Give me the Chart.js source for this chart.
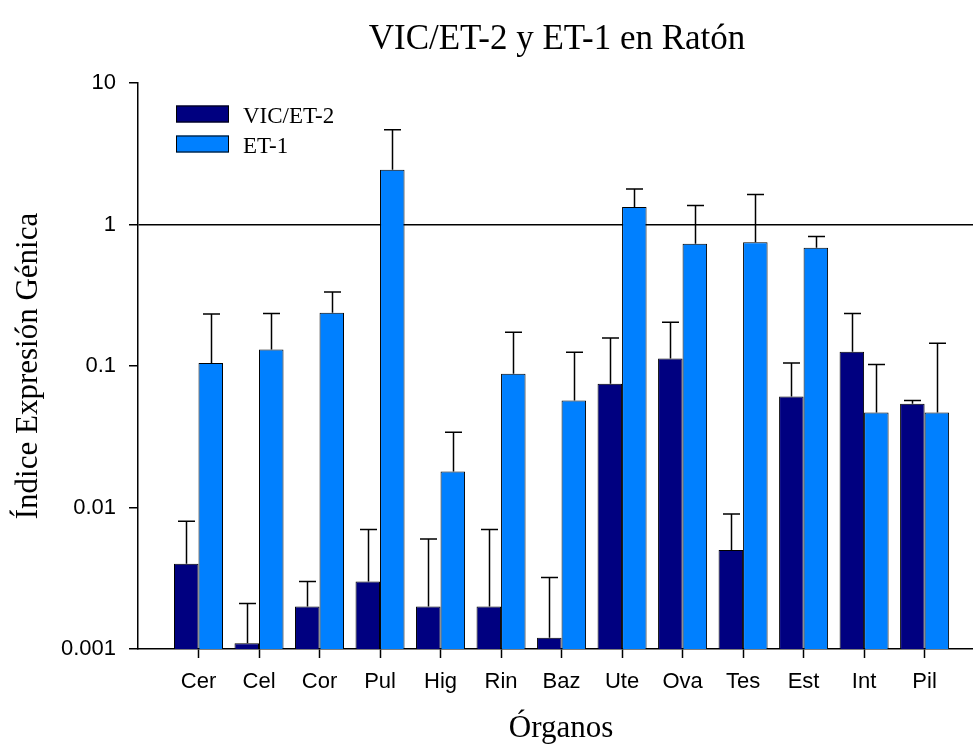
<!DOCTYPE html>
<html>
<head>
<meta charset="utf-8">
<title>VIC/ET-2 y ET-1 en Ratón</title>
<script src="https://cdn.jsdelivr.net/npm/chart.js@4/dist/chart.umd.min.js"></script>
<style>
  html, body { margin: 0; padding: 0; background: #fff; }
  #wrap { width: 973px; height: 744px; }
</style>
</head>
<body>
<div id="wrap"><canvas id="c" width="973" height="744"></canvas></div>
<script>
// Organs on the x axis
const categories = ['Cer', 'Cel', 'Cor', 'Pul', 'Hig', 'Rin', 'Baz', 'Ute', 'Ova', 'Tes', 'Est', 'Int', 'Pil'];

// VIC/ET-2 relative expression and top of its error bar
const vicValues = [0.004, 0.0011, 0.002, 0.003, 0.002, 0.002, 0.0012, 0.075, 0.113, 0.005, 0.061, 0.126, 0.054];
const vicErrTop = [0.008, 0.0021, 0.003, 0.007, 0.006, 0.007, 0.0032, 0.158, 0.204, 0.009, 0.105, 0.235, 0.057];

// ET-1 relative expression and top of its error bar
const et1Values = [0.105, 0.131, 0.238, 2.44, 0.018, 0.088, 0.057, 1.33, 0.73, 0.75, 0.685, 0.047, 0.047];
const et1ErrTop = [0.233, 0.235, 0.333, 4.68, 0.034, 0.173, 0.125, 1.78, 1.365, 1.63, 0.824, 0.1025, 0.145];

// Decade ticks of the log axis
const yTickValues = [0.001, 0.01, 0.1, 1, 10];
const yTickLabels = ['0.001', '0.01', '0.1', '1', '10'];

const SANS = '"Liberation Sans", Arial, Helvetica, sans-serif';
const SERIF = '"Liberation Serif", "Times New Roman", Times, serif';

// Error bars (upper whisker with cap) above each bar
const errorBars = {
  id: 'errorBars',
  afterDatasetsDraw(chart) {
    const { ctx, scales: { y } } = chart;
    ctx.save();
    ctx.strokeStyle = '#000';
    ctx.lineWidth = 1.5;
    chart.data.datasets.forEach((ds, di) => {
      const meta = chart.getDatasetMeta(di);
      meta.data.forEach((bar, i) => {
        const top = y.getPixelForValue(ds.errTop[i]);
        const x = Math.round(bar.x) + 0.5;
        ctx.beginPath();
        ctx.moveTo(x, bar.y);
        ctx.lineTo(x, top);
        ctx.moveTo(x - 8.5, top);
        ctx.lineTo(x + 8.5, top);
        ctx.stroke();
      });
    });
    ctx.restore();
  }
};

// Titles and legend placed around the plot area
const decorations = {
  id: 'decorations',
  afterDraw(chart) {
    const { ctx, chartArea: a } = chart;
    ctx.save();
    ctx.fillStyle = '#000';

    ctx.font = '35px ' + SERIF;
    ctx.textAlign = 'center';
    ctx.textBaseline = 'alphabetic';
    ctx.fillText('VIC/ET-2 y ET-1 en Ratón', (a.left + a.right) / 2 + 1.5, 49);

    ctx.font = '31px ' + SERIF;
    ctx.fillText('Órganos', (a.left + a.right) / 2 + 5.5, 737);

    ctx.save();
    ctx.translate(37, (a.top + a.bottom) / 2);
    ctx.rotate(-Math.PI / 2);
    ctx.fillText('Índice Expresión Génica', 0, 0);
    ctx.restore();

    // legend
    ctx.font = '23px ' + SERIF;
    ctx.textAlign = 'left';
    chart.data.datasets.forEach((ds, i) => {
      const bx = a.left + 38, by = 105.5 + i * 30, bw = 53, bh = 17;
      ctx.fillStyle = ds.backgroundColor;
      ctx.fillRect(bx, by, bw, bh);
      ctx.strokeStyle = '#000';
      ctx.lineWidth = 1;
      ctx.strokeRect(bx + 0.5, by + 0.5, bw - 1, bh - 1);
      ctx.fillStyle = '#000';
      ctx.fillText(ds.label, bx + 67, by + bh);
    });
    ctx.restore();
  }
};

const toPoints = vals => vals.map((v, i) => ({ x: i + 1, y: v }));

new Chart(document.getElementById('c'), {
  type: 'bar',
  data: {
    datasets: [
      {
        label: 'VIC/ET-2',
        data: toPoints(vicValues),
        errTop: vicErrTop,
        backgroundColor: '#000080',
        borderColor: '#000',
        borderWidth: 1,
        borderSkipped: 'start'
      },
      {
        label: 'ET-1',
        data: toPoints(et1Values),
        errTop: et1ErrTop,
        backgroundColor: '#0080FF',
        borderColor: '#000',
        borderWidth: 1,
        borderSkipped: 'start'
      }
    ]
  },
  options: {
    responsive: false,
    animation: false,
    devicePixelRatio: 1,
    layout: { padding: { top: 83, right: 0, bottom: 0, left: 0 } },
    datasets: { bar: { categoryPercentage: 0.81, barPercentage: 1 } },
    plugins: {
      legend: { display: false },
      title: { display: false },
      tooltip: { enabled: false }
    },
    scales: {
      x: {
        type: 'linear',
        min: 0,
        max: 13.8,
        offset: false,
        afterBuildTicks(scale) {
          scale.ticks = categories.map((c, i) => ({ value: i + 1 }));
        },
        afterFit(scale) { scale.height = 95; },
        ticks: {
          callback: v => categories[v - 1] ?? '',
          font: { family: SANS, size: 22 },
          color: '#000',
          padding: 11,
          maxRotation: 0,
          autoSkip: false
        },
        grid: {
          offset: false,
          drawOnChartArea: false,
          drawTicks: true,
          tickLength: 9,
          tickColor: '#000',
          tickWidth: 1.5
        },
        border: { display: true, color: '#000', width: 1.5 }
      },
      y: {
        type: 'logarithmic',
        min: 0.001,
        max: 10,
        z: 1,
        afterBuildTicks(scale) {
          scale.ticks = yTickValues.map(v => ({ value: v }));
        },
        afterFit(scale) { scale.width = 138; },
        ticks: {
          callback: (v, i) => yTickLabels[yTickValues.indexOf(v)] ?? '',
          font: { family: SANS, size: 22 },
          color: '#000',
          padding: 13,
          autoSkip: false
        },
        grid: {
          drawOnChartArea: true,
          drawTicks: true,
          tickLength: 9,
          tickColor: '#000',
          tickWidth: 1.5,
          lineWidth: 1.5,
          color: ctx => (ctx.tick && ctx.tick.value === 1 ? '#000' : 'rgba(0,0,0,0)')
        },
        border: { display: true, color: '#000', width: 1.5 }
      }
    }
  },
  plugins: [errorBars, decorations]
});
</script>
</body>
</html>
